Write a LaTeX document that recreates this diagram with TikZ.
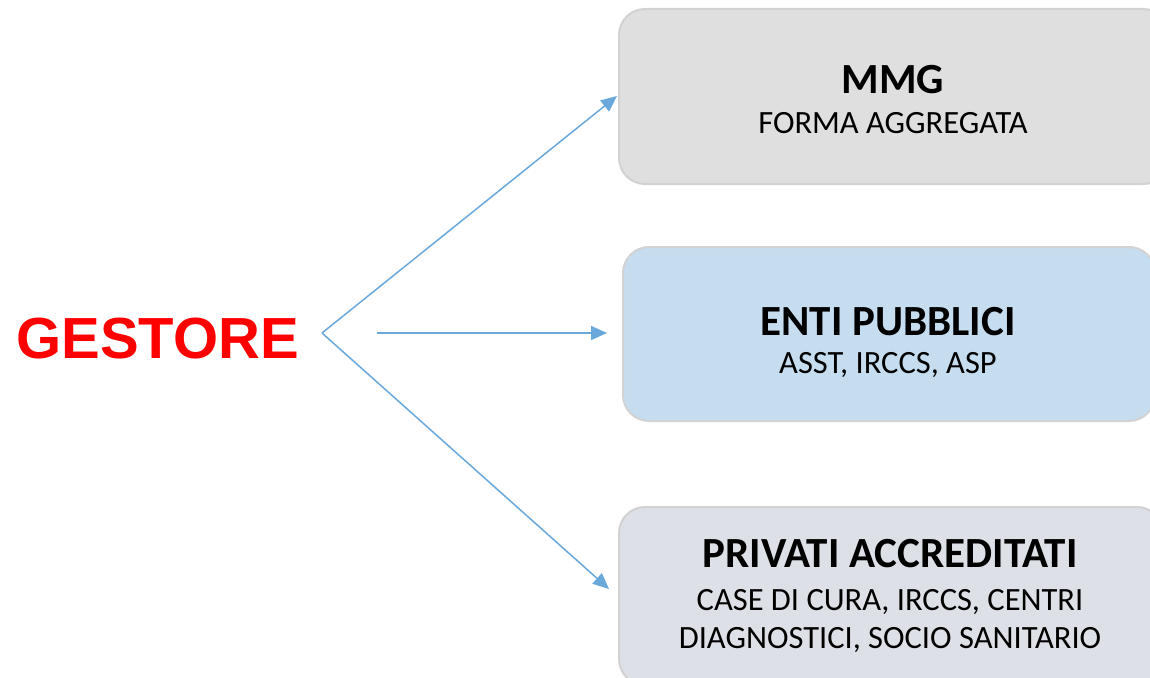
\documentclass[tikz,border=0pt]{standalone}
\usepackage{fontspec}
\setmainfont{Carlito}
\newfontfamily\arialfont{Liberation Sans}
\usetikzlibrary{arrows.meta}
\definecolor{arrowblue}{RGB}{106,168,220}
\definecolor{mmgfill}{RGB}{223,223,223}
\definecolor{entifill}{RGB}{198,221,240}
\definecolor{privfill}{RGB}{221,225,231}
\definecolor{boxborder}{RGB}{210,210,210}
\tikzset{
  box/.style={draw=boxborder, line width=2pt, rounded corners=26pt, anchor=north west, inner sep=0pt},
  conn/.style={draw=arrowblue, line width=1.5pt},
  tip/.style={-{Triangle[length=16pt,width=14pt]}},
  title/.style={anchor=base, inner sep=0pt, font=\fontsize{43}{46}\selectfont\bfseries},
  sub/.style={anchor=base, inner sep=0pt, font=\fontsize{32.5}{38}\selectfont, align=center},
}
\begin{document}
\begin{tikzpicture}[x=1pt,y=-1pt]
\useasboundingbox (0,0) rectangle (1150,677);
\begin{scope}
\clip (0,0) rectangle (1150,677);
\node[box, fill=mmgfill, minimum width=550pt, minimum height=175pt] (mmg) at (618,8) {};
\node[box, fill=entifill, minimum width=532pt, minimum height=174pt] (enti) at (622,246) {};
\node[box, fill=privfill, minimum width=544pt, minimum height=178pt] (priv) at (618,506) {};
\end{scope}
\node[title] (mmgt) at (893,93) {MMG};
\node[sub] (mmgs) at (893,133) {FORMA AGGREGATA};
\node[title] (entit) at (888,335) {ENTI PUBBLICI};
\node[sub] (entis) at (888,373) {ASST, IRCCS, ASP};
\node[title] (privt) at (890,567) {PRIVATI ACCREDITATI};
\node[sub] (privs1) at (890,610) {CASE DI CURA, IRCCS, CENTRI};
\node[sub] (privs2) at (890,648) {DIAGNOSTICI, SOCIO SANITARIO};
\node[anchor=base west, inner sep=0pt, text=red, font=\arialfont\fontsize{58}{60}\selectfont\bfseries] (gestore) at (16,358) {GESTORE};
\coordinate (apex) at (322,333);
\coordinate (tmmg) at (617,96);
\coordinate (tpriv) at (609,589);
\coordinate (mstart) at (377,333);
\coordinate (tenti) at (607,333);
\draw[conn, tip] (apex) -- (tmmg);
\draw[conn, tip] (apex) -- (tpriv);
\draw[conn, tip] (mstart) -- (tenti);
\end{tikzpicture}
\end{document}
